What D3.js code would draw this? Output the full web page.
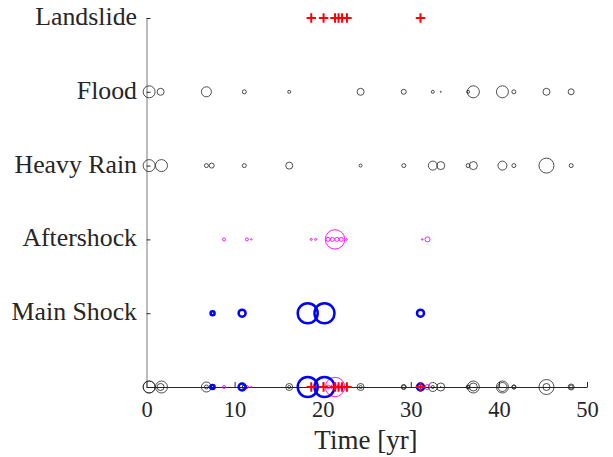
<!DOCTYPE html>
<html><head><meta charset="utf-8">
<script src="https://cdn.jsdelivr.net/npm/d3@7"></script>
<style>body{margin:0;background:#fff}svg{display:block}</style>
</head><body>
<svg id="c" width="613" height="457"></svg>
<script>
// Row categories (bottom row 0 is the combined timeline, no label)
const categories = ["", "Main Shock", "Aftershock", "Heavy Rain", "Flood", "Landslide"];
const xTicks = [0, 10, 20, 30, 40, 50];

// Event times [yr] and marker radii (magnitude) per series
const floodTime = [0.3, 1.6, 6.8, 11.1, 16.2, 24.3, 29.2, 32.5, 33.4, 36.5, 37.1, 40.4, 41.7, 45.4, 48.2];
const floodSize = [6, 3.5, 5, 2, 1.5, 3.5, 2.5, 1.5, 0.5, 1.5, 6, 6, 2, 3.5, 3];
const rainTime = [0.3, 1.7, 6.8, 7.4, 11.1, 16.2, 24.3, 29.2, 32.5, 33.4, 36.5, 37.1, 40.4, 41.7, 45.4, 48.2];
const rainSize = [6, 6, 2, 2.5, 2, 3.5, 1.5, 2, 4.5, 4, 2, 4, 4.5, 2, 7.5, 2];
const afterTime = [8.8, 11.4, 11.9, 18.7, 19.2, 20.6, 21.1, 21.4, 21.6, 22.1, 22.7, 31.3, 31.9];
const afterSize = [1.5, 1.5, 0.7, 1, 1, 2, 2, 9.7, 2, 2, 0.8, 0.8, 2.5];
const mainTime = [7.5, 10.85, 18.3, 20.2, 31.1];
const mainSize = [2, 3.5, 10, 10, 3.5];
const slideTime = [18.7, 20.1, 21.4, 21.8, 22.2, 22.75, 31.1];

const svg = d3.select("#c");
const x = d3.scaleLinear().domain([0, 50]).range([146.5, 587]);
const y = d3.scaleLinear().domain([0, 5]).range([387, 18]);
const r = d3.scaleLinear().domain([0, 10]).range([0, 10]);
const font = "'Liberation Serif', 'Times New Roman', serif";

// axes
const gx = svg.append("g").attr("transform", `translate(0,${y(0)})`)
  .call(d3.axisBottom(x).tickValues(xTicks).tickSizeInner(-5).tickSizeOuter(0).tickPadding(14.5));
gx.select(".domain").attr("stroke", "#262626");
gx.selectAll(".tick line").attr("stroke", "#262626");
gx.selectAll("text").attr("font-family", font).attr("font-size", 22.5).attr("fill", "#262626");

const gy = svg.append("g").attr("transform", `translate(${x(0)},0)`)
  .call(d3.axisLeft(y).tickValues([0,1,2,3,4,5]).tickFormat(d => categories[d])
    .tickSizeInner(-4).tickSizeOuter(0).tickPadding(9.5));
gy.select(".domain").attr("stroke", "#7a7a7a");
gy.selectAll(".tick line").attr("stroke", "#262626");
gy.selectAll("text").attr("font-family", font).attr("font-size", 25.8).attr("fill", "#262626").attr("dy", "6.5px");

svg.append("text").attr("x", 366).attr("y", 449).attr("text-anchor", "middle")
  .attr("font-family", font).attr("font-size", 27).attr("fill", "#262626").text("Time [yr]");

const plot = svg.append("g");
function circles(times, sizes, row, color, width) {
  const data = times.map((t, i) => ({t, s: sizes[i]}));
  [row, 0].forEach(rw => {
    plot.append("g").selectAll("circle").data(data).join("circle")
      .attr("cx", d => x(d.t)).attr("cy", y(rw)).attr("r", d => r(d.s))
      .attr("fill", "none").attr("stroke", color).attr("stroke-width", width);
  });
}
function crosses(times, row, color) {
  [row, 0].forEach(rw => {
    plot.append("g").selectAll("path").data(times).join("path")
      .attr("d", d => `M${x(d)-4.7},${y(rw)}H${x(d)+4.7}M${x(d)},${y(rw)-4.7}V${y(rw)+4.7}`)
      .attr("stroke", color).attr("stroke-width", 2).attr("fill", "none");
  });
}
circles(floodTime, floodSize, 4, "#222", 0.8);
circles(rainTime, rainSize, 3, "#222", 0.8);
circles(afterTime, afterSize, 2, "#ff00ff", 0.9);
circles(mainTime, mainSize, 1, "#0000ff", 2.5);
crosses(slideTime, 5, "#ff0000");
</script>
</body></html>
